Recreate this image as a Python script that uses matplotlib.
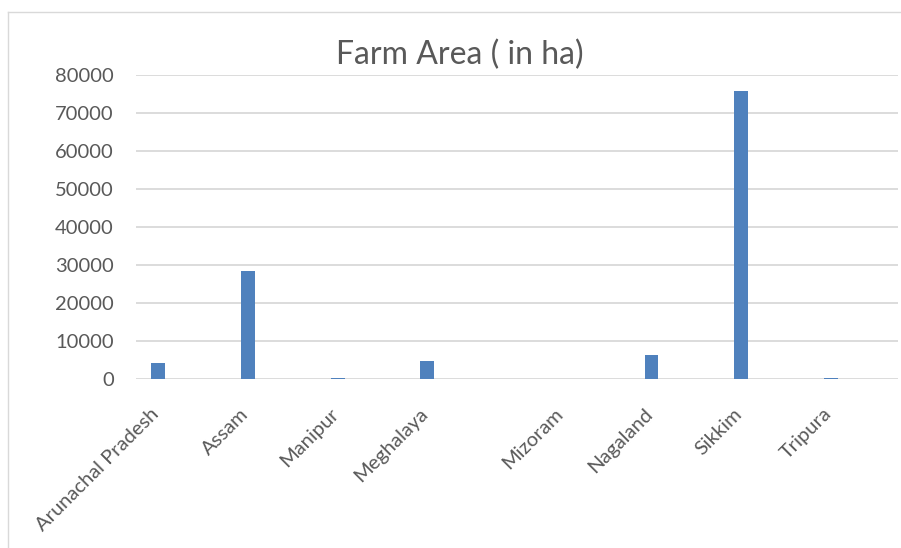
import matplotlib
matplotlib.use("Agg")
import matplotlib.pyplot as plt
import matplotlib.transforms as mtransforms
from matplotlib.lines import Line2D
import numpy as np

# Farm area by state (ha); blank rows in the source sheet keep the gaps
categories = ["Arunachal Pradesh", "", "Assam", "", "Manipur", "", "Meghalaya", "", "",
              "Mizoram", "", "Nagaland", "", "Sikkim", "", "Tripura", ""]
farm_area = [4100, 0, 28400, 0, 60, 0, 4550, 0, 0,
             40, 0, 6150, 0, 75800, 0, 300, 0]
y_ticks = [0, 10000, 20000, 30000, 40000, 50000, 60000, 70000, 80000]

BAR_COLOR = "#4F81BD"
GRID_COLOR = "#D9D9D9"
TEXT_COLOR = "#595959"

plt.rcParams['font.family'] = ['Lato', 'DejaVu Sans']

W, H = 901, 548
fig = plt.figure(figsize=(W / 100, H / 100), dpi=100)

# chart area border (only left and top edges visible in the crop)
fig.add_artist(Line2D([8 / W, 8 / W], [0, 1 - 12 / H], transform=fig.transFigure,
                      color=GRID_COLOR, linewidth=1))
fig.add_artist(Line2D([8 / W, 1], [1 - 12 / H, 1 - 12 / H], transform=fig.transFigure,
                      color=GRID_COLOR, linewidth=1))

left, right = 136 / W, 898 / W
bottom, top = 1 - 378.7 / H, 1 - 75 / H
ax = fig.add_axes([left, bottom, right - left, top - bottom])

x = np.arange(len(categories))
ax.bar(x, farm_area, width=0.31, color=BAR_COLOR, zorder=3)

ax.set_xlim(-0.5, len(categories) - 0.5)
ax.set_ylim(0, 80000)
ax.set_yticks(y_ticks)
ax.set_yticklabels([str(v) for v in y_ticks])
ax.yaxis.grid(True, color=GRID_COLOR, linewidth=1.3, zorder=0)
ax.set_axisbelow(True)

ax.set_xticks(x)
ax.set_xticklabels(categories, rotation=45, ha="right", va="top",
                   rotation_mode="anchor")

for side in ["top", "right", "left", "bottom"]:
    ax.spines[side].set_visible(False)

ax.tick_params(axis="both", length=0, colors=TEXT_COLOR, labelsize=14.5)
ax.tick_params(axis="y", pad=16)
ax.tick_params(axis="x", pad=22)

# nudge rotated labels so their ends sit on the bar centres
shift = mtransforms.ScaledTranslation(-8 / 100, 4 / 100, fig.dpi_scale_trans)
for lbl in ax.get_xticklabels():
    lbl.set_transform(lbl.get_transform() + shift)

fig.text(460 / W, 1 - 55 / H, "Farm Area ( in ha)", ha="center",
         va="center", fontsize=23, color=TEXT_COLOR)

fig.savefig("out.png", dpi=100)
